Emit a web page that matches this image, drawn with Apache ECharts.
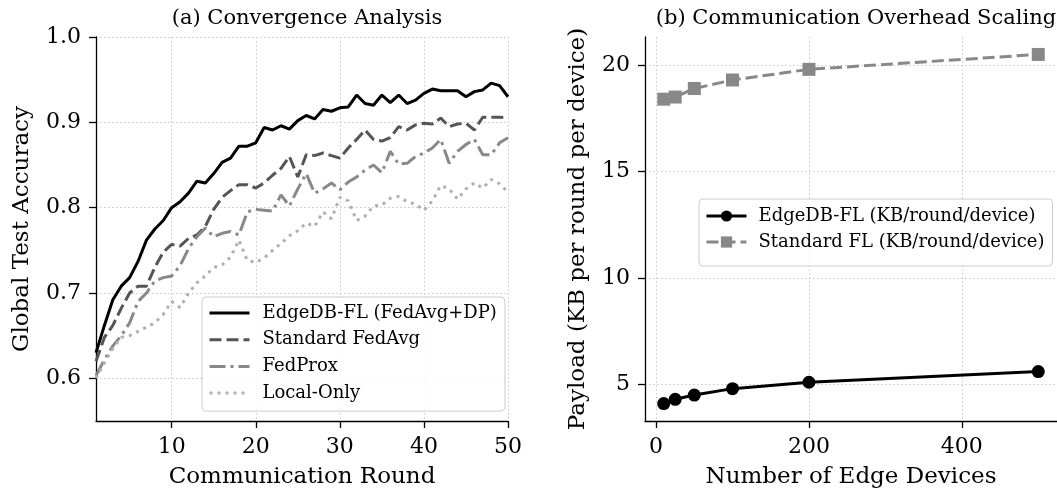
<!DOCTYPE html>
<html>
<head>
<meta charset="utf-8">
<script src="https://cdn.jsdelivr.net/npm/echarts@6/dist/echarts.min.js"></script>
<style>
  html, body { margin: 0; padding: 0; background: #fff; }
  #chart { width: 1057px; height: 497px; }
</style>
</head>
<body>
<div id="chart"></div>
<script>
// (a) convergence
const rounds = [1, 2, 3, 4, 5, 6, 7, 8, 9, 10, 11, 12, 13, 14, 15, 16, 17, 18, 19, 20,
  21, 22, 23, 24, 25, 26, 27, 28, 29, 30, 31, 32, 33, 34, 35, 36, 37, 38, 39, 40,
  41, 42, 43, 44, 45, 46, 47, 48, 49, 50]
const edgeAcc = [0.630, 0.662, 0.692, 0.708, 0.718, 0.737, 0.762, 0.775, 0.785, 0.800,
  0.807, 0.817, 0.831, 0.829, 0.840, 0.853, 0.858, 0.872, 0.872, 0.876,
  0.894, 0.891, 0.896, 0.892, 0.902, 0.908, 0.904, 0.915, 0.913, 0.917,
  0.918, 0.932, 0.922, 0.920, 0.932, 0.923, 0.932, 0.922, 0.926, 0.934,
  0.939, 0.937, 0.937, 0.937, 0.930, 0.936, 0.938, 0.946, 0.943, 0.930]
const fedAvgAcc = [0.620, 0.648, 0.662, 0.682, 0.700, 0.708, 0.708, 0.730, 0.748, 0.757,
  0.755, 0.764, 0.768, 0.778, 0.798, 0.812, 0.820, 0.827, 0.827, 0.823,
  0.829, 0.838, 0.846, 0.860, 0.836, 0.862, 0.861, 0.864, 0.861, 0.858,
  0.870, 0.880, 0.891, 0.880, 0.878, 0.882, 0.895, 0.891, 0.897, 0.899,
  0.898, 0.905, 0.895, 0.898, 0.899, 0.891, 0.906, 0.906, 0.906, 0.905]
const fedProxAcc = [0.603, 0.622, 0.638, 0.650, 0.665, 0.690, 0.700, 0.714, 0.718, 0.720,
  0.732, 0.752, 0.766, 0.776, 0.766, 0.770, 0.772, 0.768, 0.795, 0.798,
  0.797, 0.796, 0.815, 0.802, 0.822, 0.840, 0.817, 0.822, 0.829, 0.821,
  0.830, 0.836, 0.844, 0.850, 0.841, 0.866, 0.851, 0.852, 0.860, 0.864,
  0.870, 0.880, 0.852, 0.866, 0.874, 0.880, 0.862, 0.862, 0.876, 0.882]
const localAcc = [0.600, 0.618, 0.635, 0.648, 0.650, 0.655, 0.660, 0.665, 0.675, 0.690,
  0.683, 0.700, 0.712, 0.720, 0.730, 0.733, 0.742, 0.762, 0.738, 0.736,
  0.741, 0.750, 0.758, 0.767, 0.773, 0.782, 0.778, 0.795, 0.787, 0.812,
  0.808, 0.785, 0.790, 0.802, 0.803, 0.811, 0.813, 0.807, 0.804, 0.797,
  0.808, 0.826, 0.822, 0.810, 0.822, 0.829, 0.823, 0.833, 0.828, 0.818]
const accTicks = [0.6, 0.7, 0.8, 0.9, 1.0]
const roundTicks = [10, 20, 30, 40, 50]

// (b) communication overhead
const devices = [10, 25, 50, 100, 200, 500]
const edgePayload = [4.1, 4.3, 4.5, 4.8, 5.1, 5.6]
const standardPayload = [18.4, 18.5, 18.9, 19.3, 19.8, 20.5]
const deviceTicks = [0, 200, 400]
const payloadTicks = [5, 10, 15, 20]

const FONT = 'DejaVu Serif'
const pairs = (xs, ys) => xs.map((x, i) => [x, ys[i]])

const axisBase = (ticks, min, max, fmt) => ({
  type: 'value',
  min: min,
  max: max,
  axisLine: { show: true, onZero: false, lineStyle: { color: '#000', width: 1.3 } },
  axisTick: { show: true, customValues: ticks, length: 7, lineStyle: { color: '#000', width: 1.3 } },
  axisLabel: {
    customValues: ticks, color: '#000', fontFamily: FONT, fontSize: 22, margin: 15,
    formatter: fmt
  },
  splitLine: { show: true, lineStyle: { color: '#c8c8c8', type: [1.5, 2.5], width: 1 } },
  nameLocation: 'middle',
  nameTextStyle: { color: '#000', fontFamily: FONT, fontSize: 23 }
})

const accSeries = (name, data, color, type) => ({
  name: name,
  type: 'line',
  xAxisIndex: 0,
  yAxisIndex: 0,
  data: pairs(rounds, data),
  symbol: 'none',
  lineStyle: { color: color, width: 3, type: type, cap: 'butt' },
  itemStyle: { color: color },
  animation: false
})

const titleStyle = { fontFamily: FONT, fontSize: 21, fontWeight: 'normal', color: '#000' }

const option = {
  backgroundColor: '#fff',
  title: [
    { text: '(a) Convergence Analysis', left: 302, top: 3, textAlign: 'center', textStyle: titleStyle },
    { text: '(b) Communication Overhead Scaling', left: 851, top: 3, textAlign: 'center', textStyle: titleStyle }
  ],
  grid: [
    { left: 96, top: 37, width: 412, height: 384 },
    { left: 645, top: 37, width: 412, height: 384 }
  ],
  xAxis: [
    Object.assign(axisBase(roundTicks, 1, 50), { gridIndex: 0, name: 'Communication Round', nameGap: 45 }),
    Object.assign(axisBase(deviceTicks, -14.5, 524.5), { gridIndex: 1, name: 'Number of Edge Devices', nameGap: 45 })
  ],
  yAxis: [
    Object.assign(axisBase(accTicks, 0.55, 1.0, v => v.toFixed(1)), { gridIndex: 0, name: 'Global Test Accuracy', nameGap: 62 }),
    Object.assign(axisBase(payloadTicks, 3.28, 21.32), { gridIndex: 1, name: 'Payload (KB per round per device)', nameGap: 55 })
  ],
  legend: [
    {
      orient: 'vertical', left: 202, top: 297,
      data: ['EdgeDB-FL (FedAvg+DP)', 'Standard FedAvg', 'FedProx', 'Local-Only'],
      itemWidth: 40, itemHeight: 14, itemGap: 6.7,
      padding: [6, 8, 8, 6],
      borderColor: '#cccccc', borderWidth: 1, borderRadius: 4,
      backgroundColor: 'rgba(255,255,255,0.8)',
      itemStyle: { opacity: 0 },
      lineStyle: { width: 3 },
      textStyle: { fontFamily: FONT, fontSize: 18, color: '#000', lineHeight: 20, padding: [0, 0, 0, 8] }
    },
    {
      orient: 'vertical', left: 699, top: 199,
      data: ['EdgeDB-FL (KB/round/device)', 'Standard FL (KB/round/device)'],
      itemWidth: 40, itemHeight: 14, itemGap: 6,
      padding: [7, 8, 14, 6],
      borderColor: '#cccccc', borderWidth: 1, borderRadius: 4,
      backgroundColor: 'rgba(255,255,255,0.8)',
      lineStyle: { width: 3 },
      textStyle: { fontFamily: FONT, fontSize: 18, color: '#000', lineHeight: 20, padding: [0, 0, 0, 7] }
    }
  ],
  series: [
    accSeries('EdgeDB-FL (FedAvg+DP)', edgeAcc, '#000000', 'solid'),
    accSeries('Standard FedAvg', fedAvgAcc, '#555555', [12, 5]),
    accSeries('FedProx', fedProxAcc, '#888888', [16, 5, 3, 5]),
    accSeries('Local-Only', localAcc, '#b0b0b0', [3, 5]),
    {
      name: 'EdgeDB-FL (KB/round/device)',
      type: 'line',
      xAxisIndex: 1,
      yAxisIndex: 1,
      data: pairs(devices, edgePayload),
      symbol: 'circle',
      symbolSize: 13,
      lineStyle: { color: '#000', width: 3 },
      itemStyle: { color: '#000' },
      animation: false
    },
    {
      name: 'Standard FL (KB/round/device)',
      type: 'line',
      xAxisIndex: 1,
      yAxisIndex: 1,
      data: pairs(devices, standardPayload),
      symbol: 'rect',
      symbolSize: 13,
      lineStyle: { color: '#888888', width: 3, type: [12, 5] },
      itemStyle: { color: '#888888' },
      animation: false
    }
  ]
}

const chart = echarts.init(document.getElementById('chart'))
chart.setOption(option, true)
window.addEventListener('resize', () => chart && chart.resize())
</script>
</body>
</html>
